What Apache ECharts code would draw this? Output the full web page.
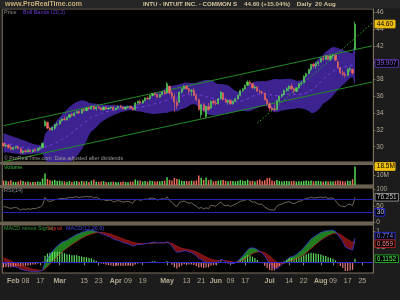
<!DOCTYPE html>
<html><head><meta charset="utf-8">
<script src="https://cdn.jsdelivr.net/npm/echarts@6/dist/echarts.min.js"></script>
<style>html,body{margin:0;padding:0;background:#1c1c1c;}#c{width:400px;height:300px;}</style>
</head><body><div id="c"></div>
<script>
const dates = ["1/26","1/27","1/28","1/29",
"2/1","2/2","2/3","2/4","2/5","2/8","2/9","2/10","2/11","2/12","2/16","2/17","2/18","2/19","2/22","2/23","2/24","2/25","2/26",
"3/1","3/2","3/3","3/4","3/5","3/8","3/9","3/10","3/11","3/12","3/15","3/16","3/17","3/18","3/19","3/22","3/23","3/24","3/25","3/26","3/29","3/30","3/31",
"4/1","4/5","4/6","4/7","4/8","4/9","4/12","4/13","4/14","4/15","4/16","4/19","4/20","4/21","4/22","4/23","4/26","4/27","4/28","4/29","4/30",
"5/3","5/4","5/5","5/6","5/7","5/10","5/11","5/12","5/13","5/14","5/17","5/18","5/19","5/20","5/21","5/24","5/25","5/26","5/27","5/28",
"6/1","6/2","6/3","6/4","6/7","6/8","6/9","6/10","6/11","6/14","6/15","6/16","6/17","6/18","6/21","6/22","6/23","6/24","6/25","6/28","6/29","6/30",
"7/1","7/2","7/6","7/7","7/8","7/9","7/12","7/13","7/14","7/15","7/16","7/19","7/20","7/21","7/22","7/23","7/26","7/27","7/28","7/29","7/30",
"8/2","8/3","8/4","8/5","8/6","8/9","8/10","8/11","8/12","8/13","8/16","8/17","8/18","8/19","8/20","8/23","8/24","8/25","8/26","8/27","8/30","8/31"];

const tickLabels = {"2/1":"Feb","2/8":"08","2/17":"17","3/1":"Mar","3/15":"15","3/23":"23","4/1":"Apr","4/9":"09","4/19":"19",
"5/3":"May","5/13":"13","5/21":"21","6/1":"Jun","6/9":"09","6/17":"17","7/1":"Jul","7/14":"14","7/22":"22","8/2":"Aug","8/9":"09","8/17":"17","8/25":"25"};

const opens = [30.4,30.1,30.2,29.9,
29.7,29.9,30.0,29.8,29.3, 29.5,29.4,29.6,29.4,29.6, 29.5,29.8,29.9,32.5,32.9, 32.2,32.0,32.2,32.6,
32.7,33.1,33.3,33.2,33.5, 33.8,33.7,34.0,34.2,34.0, 34.4,34.3,34.6,34.5,34.8, 34.5,34.7,34.6,34.4,34.7, 34.5,34.6,34.7,
34.4, 34.6,34.8,34.7,34.5,34.7, 34.8,34.6,34.4,35.2,35.4, 35.2,35.5,35.8,35.7,36.1, 36.3,36.2,35.9,36.2,36.5,
36.4,37.2,36.4,36.0,35.3, 35.3,36.5,36.9,37.2,36.9, 36.6,36.7,36.1,35.6,33.8, 35.0,33.6,34.8,34.6,35.4,
35.2,35.1,35.7,36.4, 35.6,35.3,35.5,35.1,35.4, 35.7,36.1,36.7,36.9,37.3, 37.7,37.5,37.0,37.1,36.6, 36.5,36.4,35.6,
35.1,34.6, 34.5,34.4,35.5,36.0, 36.2,36.7,36.9,37.2,36.9, 36.6,37.0,37.5,37.6,38.4, 38.7,39.2,39.8,39.6,39.9,
40.1,40.5,40.4,40.8,40.4, 40.8,40.9,40.1,39.4,38.8, 38.6,38.5,39.2,39.2,41.6];

const closes = [30.1,30.2,29.9,29.7,
29.9,30.0,29.8,29.3,29.5, 29.4,29.6,29.4,29.6,29.5, 29.8,29.9,30.4,33.0,32.2, 32.0,32.3,32.6,32.7,
33.1,33.3,33.2,33.5,33.8, 33.7,34.0,34.2,34.0,34.4, 34.3,34.6,34.5,34.8,34.5, 34.7,34.6,34.4,34.7,34.5, 34.6,34.7,34.4,
34.6, 34.8,34.7,34.5,34.7,34.8, 34.6,34.4,35.2,35.4,35.2, 35.5,35.8,35.7,36.1,36.3, 36.2,35.9,36.2,36.5,36.3,
37.5,36.4,36.0,35.3,34.9, 36.5,36.9,37.2,36.9,36.6, 36.7,36.1,35.6,34.4,35.0, 34.3,34.8,34.4,35.4,35.2,
35.1,35.7,36.5,35.6, 35.3,35.5,35.1,35.4,35.7, 36.1,36.7,36.9,37.3,37.7, 37.5,37.0,37.1,36.6,36.5, 36.4,35.6,35.1,
34.6,34.4, 34.4,35.5,36.0,36.2, 36.7,36.9,37.2,36.9,36.6, 37.0,37.5,37.6,38.4,38.7, 39.2,39.8,39.6,39.9,40.1,
40.5,40.4,40.8,40.4,40.8, 40.9,40.3,39.4,38.8,38.6, 38.5,39.2,39.3,38.77,44.6];

const highs = [30.5,30.3,30.3,30.1,
30.0,30.1,30.1,29.9,29.6, 29.7,29.7,29.7,29.7,29.8, 29.9,30.0,30.5,33.2,33.0, 32.4,32.4,32.7,32.9,
33.2,33.4,33.6,33.6,33.9, 34.0,34.1,34.3,34.3,34.5, 34.6,34.7,34.8,34.9,34.9, 34.8,34.9,34.7,34.8,34.8, 34.7,34.8,34.8,
34.7, 34.9,35.0,34.8,34.8,34.9, 34.9,34.7,35.3,35.5,35.6, 35.6,35.9,36.0,36.2,36.4, 36.5,36.3,36.3,36.6,36.7,
37.7,37.3,36.6,36.3,35.6, 36.6,37.0,37.3,37.3,37.0, 36.9,37.0,36.3,35.7,35.1, 35.2,34.9,35.2,35.5,35.6,
35.6,35.8,36.6,36.5, 35.8,35.6,35.6,35.5,35.8, 36.2,36.8,37.0,37.4,37.9, 37.9,37.6,37.3,37.2,36.8, 36.7,36.4,35.8,
35.3,34.8, 35.0,35.6,36.1,36.3, 36.8,37.1,37.3,37.5,37.0, 37.1,37.6,37.8,38.5,38.8, 39.3,39.9,40.0,40.1,40.2,
40.6,40.8,40.9,40.9,40.9, 41.0,41.0,40.2,39.5,39.1, 38.9,39.4,39.5,39.3,44.9];

const lows = [30.0,29.9,29.8,29.6,
29.6,29.7,29.7,29.2,29.1, 29.3,29.3,29.3,29.3,29.4, 29.5,29.6,29.8,32.4,32.1, 31.9,31.9,32.0,32.4,
32.6,33.0,33.1,33.1,33.4, 33.6,33.6,33.9,33.9,33.9, 34.2,34.2,34.4,34.4,34.4, 34.3,34.5,34.3,34.3,34.4, 34.4,34.5,34.3,
34.3, 34.5,34.6,34.4,34.4,34.6, 34.5,34.3,34.3,35.0,35.0, 35.1,35.4,35.6,35.6,36.0, 36.1,35.8,35.8,36.1,36.2,
36.3,36.2,35.8,34.1,34.5, 35.2,36.3,36.8,36.8,36.3, 36.0,36.0,35.4,34.3,33.4, 34.2,33.4,34.3,34.5,35.0,
34.9,35.0,35.6,35.5, 35.2,35.0,35.0,35.0,35.3, 35.6,36.0,36.5,36.8,37.2, 37.3,36.9,36.8,36.5,36.3, 36.2,35.5,35.0,
34.2,34.2, 34.2,34.4,35.3,35.8, 36.1,36.5,36.6,36.7,36.4, 36.5,36.9,37.3,37.6,38.2, 38.6,39.0,39.4,39.3,39.6,
40.0,40.2,40.3,40.3,40.2, 40.5,40.2,39.3,38.6,38.4, 38.2,38.4,38.9,38.6,41.5];

// volume in millions
const volumes = [4.5,4.2,3.6,4.8,
3.4,3.1,3.5,4.6,4.0, 3.2,3.4,2.9,3.1,3.0, 3.6,3.3,6.5,11.5,6.0, 4.8,4.2,5.0,3.9,
4.4,3.8,3.5,3.3,4.0, 3.1,3.6,3.9,3.2,4.1, 3.4,3.8,3.0,4.4,5.2, 3.3,3.1,3.4,3.9,3.0, 2.8,3.2,3.5,
2.9, 2.7,3.1,3.4,3.0,2.8, 3.2,3.6,5.5,4.3,4.6, 3.5,4.0,3.4,4.2,3.9, 3.5,3.8,3.6,4.1,4.4,
7.8,5.2,4.5,7.0,6.0, 5.5,4.2,3.9,4.0,3.8, 4.4,3.9,4.6,9.5,7.2, 5.0,7.5,4.8,5.2,3.6,
4.0,4.3,4.8,5.0, 4.1,3.8,4.2,3.9,3.6, 4.0,4.9,4.4,4.1,5.3, 4.0,4.2,3.5,4.6,5.6, 3.9,4.8,6.8,
7.0,4.4, 3.9,5.0,4.0,3.6, 3.8,4.1,3.7,3.9,4.3, 3.4,3.8,3.6,4.2,4.5, 4.0,4.6,3.7,3.9,4.1,
3.8,3.4,3.9,3.5,3.7, 3.6,3.9,4.5,4.2,3.8, 3.6,4.4,4.0,5.8,18.5];

const bbUpper = [31.6,31.5,31.4,31.3,
31.2,31.1,31.0,30.9,30.8, 30.7,30.55,30.45,30.35,30.25, 30.2,30.15,30.3,31.5,31.9, 32.16,32.47,32.8,33.15,
33.5,33.85,34.15,34.44,34.72, 34.95,35.16,35.35,35.44,35.52, 35.5,35.42,35.22,35.17,35.15, 35.11,35.04,34.99,34.97,34.98, 34.98,34.97,34.95,
34.94, 34.93,34.9,34.89,34.85,34.87, 34.86,34.87,35.0,35.16,35.22, 35.37,35.57,35.72,35.95,36.17, 36.33,36.42,36.55,36.73,36.84,
37.13,37.2,37.24,37.3,37.35, 37.42,37.5,37.62,37.65,37.62, 37.58,37.58,37.6,37.75,37.8, 37.9,37.93,37.95,37.88,37.82,
37.55,37.45,37.45,37.42, 37.38,37.3,37.1,36.85,36.65, 36.55,36.56,36.68,36.9,37.22, 37.48,37.64,37.76,37.8,37.8, 37.82,37.8,37.82,
37.9,38.0, 38.05,38.05,38.03,38.02, 38.06,38.08,38.1,38.06,37.98, 37.85,37.85,37.92,38.12,38.42, 38.86,39.42,39.82,40.16,40.47,
40.74,40.94,41.3,41.52,41.75, 41.86,41.83,41.74,41.64,41.54, 41.41,41.3,41.18,41.1,42.52];

const bbMid = [30.45,30.4,30.35,30.28,
30.2,30.15,30.08,29.98,29.93, 29.88,29.83,29.78,29.75,29.73, 29.7,29.7,29.75,29.98,30.07, 30.16,30.27,30.39,30.53,
30.7,30.87,31.03,31.2,31.44, 31.65,31.88,32.11,32.34,32.58, 32.82,33.06,33.29,33.51,33.59, 33.71,33.84,33.95,34.05,34.14, 34.22,34.29,34.35,
34.4, 34.45,34.5,34.53,34.55,34.59, 34.6,34.61,34.64,34.68,34.7, 34.75,34.81,34.86,34.95,35.03, 35.11,35.18,35.25,35.36,35.44,
35.58,35.66,35.74,35.77,35.77, 35.87,35.99,36.09,36.17,36.24, 36.3,36.31,36.28,36.2,36.12, 36.03,35.97,35.87,35.82,35.76,
35.64,35.6,35.63,35.64, 35.66,35.63,35.55,35.47,35.41, 35.4,35.42,35.48,35.57,35.71, 35.86,36.0,36.12,36.2,36.26, 36.3,36.32,36.3,
36.2,36.13, 36.08,36.07,36.11,36.16, 36.2,36.24,36.27,36.27,36.24, 36.21,36.21,36.24,36.3,36.41, 36.55,36.72,36.92,37.16,37.43,
37.74,38.04,38.3,38.52,38.75, 38.96,39.13,39.24,39.34,39.44, 39.51,39.6,39.68,39.7,39.907];

const bbLower = [29.3,29.3,29.3,29.25,
29.2,29.2,29.15,29.05,29.05, 29.05,29.1,29.1,29.15,29.2, 29.2,29.25,29.2,28.45,28.24, 28.16,28.07,27.97,27.9,
27.9,27.89,27.91,27.96,28.16, 28.35,28.6,28.87,29.24,29.64, 30.14,30.7,31.36,31.85,32.02, 32.31,32.64,32.9,33.13,33.3, 33.46,33.6,33.75,
33.86, 33.97,34.1,34.16,34.25,34.31, 34.34,34.35,34.27,34.2,34.18, 34.13,34.04,34.0,33.94,33.88, 33.89,33.93,33.95,33.98,34.04,
34.02,34.12,34.23,34.24,34.19, 34.32,34.48,34.56,34.69,34.86, 35.02,35.04,34.96,34.65,34.44, 34.16,34.01,33.79,33.76,33.7,
33.73,33.75,33.81,33.86, 33.94,33.96,34.0,34.09,34.17, 34.25,34.28,34.28,34.24,34.2, 34.24,34.36,34.48,34.6,34.72, 34.78,34.84,34.78,
34.5,34.26, 34.1,34.09,34.2,34.3, 34.34,34.4,34.44,34.48,34.5, 34.57,34.57,34.56,34.48,34.4, 34.24,34.02,34.02,34.16,34.39,
34.74,35.14,35.3,35.52,35.75, 36.06,36.43,36.74,37.04,37.34, 37.61,37.9,38.18,38.3,37.3];

const rsi = [46,47,44,42,
44,45,42,37,40, 39,41,39,42,41, 44,46,52,76,66, 63,66,69,70,
72,73,72,74,76, 75,77,78,75,78, 77,79,77,79,74, 76,73,68,70,66, 67,68,62,
64, 66,64,61,63,64, 61,58,68,70,67, 69,71,70,73,74, 72,68,70,72,70,
78,66,61,52,48, 60,63,65,61,58, 59,53,49,42,45, 40,44,41,52,50,
49,56,62,53, 50,52,48,52,55, 59,64,65,68,70, 67,61,62,56,55, 54,46,42,
38,37, 37,49,54,55, 59,61,63,59,56, 60,64,65,70,72, 74,77,74,75,76,
77,75,77,72,74, 74,66,56,50,48, 47,54,55,50,76.251];

const macd = [-0.02,-0.04,-0.08,-0.12,
-0.14,-0.15,-0.17,-0.22,-0.24, -0.26,-0.27,-0.29,-0.29,-0.3, -0.29,-0.28,-0.24,0.0,0.14, 0.25,0.35,0.44,0.52,
0.59,0.65,0.68,0.71,0.76, 0.8,0.85,0.9,0.92,0.96, 0.98,1.01,1.02,1.03,1.01, 0.99,0.96,0.92,0.9,0.86, 0.83,0.8,0.75,
0.72, 0.7,0.67,0.63,0.61,0.59, 0.56,0.52,0.55,0.57,0.57, 0.58,0.6,0.6,0.62,0.64, 0.65,0.62,0.62,0.63,0.62,
0.66,0.6,0.52,0.4,0.32, 0.33,0.35,0.37,0.36,0.33, 0.31,0.27,0.21,0.12,0.09, 0.03,0.0,-0.03,-0.01,-0.01,
-0.02,0.02,0.09,0.07, 0.02,0.0,-0.03,-0.04,-0.02, 0.04,0.12,0.2,0.3,0.4, 0.46,0.46,0.45,0.4,0.35, 0.3,0.2,0.08,
-0.05,-0.14, -0.2,-0.19,-0.14,-0.08, 0.0,0.07,0.15,0.18,0.2, 0.25,0.32,0.38,0.47,0.56, 0.65,0.75,0.8,0.86,0.91,
0.96,0.98,1.01,1.01,1.03, 1.03,0.99,0.88,0.77,0.66, 0.5,0.45,0.42,0.39,0.7742];

const signal = [0.15,0.11,0.08,0.04,
0.0,-0.03,-0.06,-0.09,-0.12, -0.15,-0.17,-0.2,-0.22,-0.23, -0.25,-0.26,-0.26,-0.21,-0.14, -0.06,0.02,0.1,0.18,
0.26,0.33,0.39,0.45,0.51, 0.57,0.62,0.67,0.72,0.77, 0.81,0.85,0.88,0.91,0.93, 0.95,0.96,0.96,0.95,0.94, 0.92,0.9,0.87,
0.84, 0.81,0.78,0.75,0.72,0.7, 0.67,0.64,0.62,0.61,0.6, 0.6,0.6,0.6,0.6,0.61, 0.62,0.62,0.62,0.62,0.62,
0.63,0.62,0.6,0.56,0.52, 0.48,0.45,0.43,0.42,0.4, 0.38,0.36,0.33,0.29,0.25, 0.21,0.17,0.13,0.1,0.08,
0.06,0.05,0.06,0.06, 0.05,0.04,0.03,0.01,0.0, 0.01,0.03,0.07,0.11,0.17, 0.23,0.28,0.31,0.33,0.34, 0.33,0.31,0.26,
0.2,0.13, 0.06,0.01,-0.02,-0.04, -0.03,-0.01,0.02,0.05,0.08, 0.11,0.15,0.19,0.24,0.3, 0.37,0.44,0.51,0.58,0.64,
0.71,0.76,0.81,0.85,0.89, 0.92,0.93,0.92,0.89,0.84, 0.78,0.73,0.68,0.63,0.659];

const channelUpper = [["1/26", 32.5], ["8/31", 42.0]];
const channelLower = [["1/26", 28.2], ["8/31", 37.7]];
const trendDotted = [["6/24", 32.8], ["8/31", 44.7]];

const priceTicks = [30,32,34,36,38,40,42,44,46];
const volTicks = [10];
const rsiTicks = [0,50,100];
const rsiLevels = [30,70];
const macdTicks = [0.5,1];

// ---------- rendering ----------
const FONT = '"Liberation Sans", Arial, sans-serif';
const TAN = '#7d715c';
const LBL = '#b4aa92';
const UP = '#55d655', DOWN = '#ee6a5a';
const chart = echarts.init(document.getElementById('c'), null, {renderer: 'canvas'});

const last = closes.length - 1;
const candleData = opens.map((o, i) => [o, closes[i], lows[i], highs[i]]);
const volData = volumes.map((v, i) => ({value: v, itemStyle: {color: closes[i] >= opens[i] ? UP : DOWN}}));
const bbWidth = bbUpper.map((u, i) => +(u - bbLower[i]).toFixed(3));
const hist = macd.map((m, i) => +(m - signal[i]).toFixed(4));
const histData = hist.map(h => ({value: h, itemStyle: {color: h >= 0 ? '#5ee05e' : '#e87c7c'}}));
const mBase = macd.map((m, i) => Math.min(m, signal[i]));
const mGreen = macd.map((m, i) => Math.max(0, m - signal[i]));
const mRed = macd.map((m, i) => Math.max(0, signal[i] - m));

const showTick = (i, v) => tickLabels[v] !== undefined;
const gridBase = {left: 2.3, width: 371, show: true, backgroundColor: '#000', borderColor: TAN, borderWidth: 1};

function xAx(gi, visible) {
  return {
    type: 'category', gridIndex: gi, data: dates, boundaryGap: true,
    axisLine: {show: visible, lineStyle: {color: TAN}},
    axisTick: {show: visible, interval: showTick, alignWithLabel: true, length: 3, lineStyle: {color: '#9a8e76'}},
    axisLabel: {show: visible, interval: showTick, margin: 5, fontSize: 7, fontFamily: FONT, color: LBL,
      formatter: v => { const t = tickLabels[v]; return /^[A-Z]/.test(t) ? '{m|' + t + '}' : t; },
      rich: {m: {fontWeight: 'bold', fontSize: 7, fontFamily: FONT, color: LBL}}},
    splitLine: {show: false}
  };
}
function yAx(gi, min, max, ticks, fmt) {
  return {
    type: 'value', gridIndex: gi, position: 'right', min: min, max: max,
    axisLine: {show: true, lineStyle: {color: TAN}},
    axisTick: {show: true, length: 2, customValues: ticks, lineStyle: {color: TAN}},
    axisLabel: {show: true, customValues: ticks, margin: 3, fontSize: 6.5, fontFamily: FONT, color: LBL, formatter: fmt},
    splitLine: {show: false}
  };
}
const noSym = {showSymbol: false, symbol: 'none', silent: true};

const option = {
  animation: false,
  backgroundColor: '#1c1c1c',
  grid: [
    Object.assign({}, gridBase, {top: 9, height: 153}),
    Object.assign({}, gridBase, {top: 164.5, height: 20.5}),
    Object.assign({}, gridBase, {top: 188, height: 34}),
    Object.assign({}, gridBase, {top: 225, height: 48})
  ],
  xAxis: [xAx(0, false), xAx(1, false), xAx(2, false), xAx(3, true)],
  yAxis: [
    yAx(0, 28.18, 46.39, priceTicks, v => String(v)),
    yAx(1, 0, 20.5, volTicks, v => v + 'M'),
    yAx(2, 0, 105, rsiTicks, v => String(v)),
    yAx(3, -0.343, 1.196, macdTicks, v => String(v))
  ],
  series: [
    Object.assign({type: 'line', name: 'bbBase', data: bbLower, stack: 'bb', lineStyle: {opacity: 0}, z: 1}, noSym),
    Object.assign({type: 'line', name: 'bbFill', data: bbWidth, stack: 'bb', lineStyle: {opacity: 0},
      areaStyle: {color: '#3c2390', opacity: 1}, z: 1}, noSym),
    Object.assign({type: 'line', name: 'bbMid', data: bbMid, lineStyle: {color: '#7440d8', width: 1, type: [3, 3]}, z: 2}, noSym),
    Object.assign({type: 'line', data: channelUpper, lineStyle: {color: '#238c23', width: 1}, z: 3}, noSym),
    Object.assign({type: 'line', data: channelLower, lineStyle: {color: '#238c23', width: 1}, z: 3}, noSym),
    {type: 'candlestick', data: candleData, barWidth: 1.7, z: 4, silent: true,
      itemStyle: {color: UP, color0: DOWN, borderColor: UP, borderColor0: DOWN, borderWidth: 0.6}},
    Object.assign({type: 'line', data: trendDotted, lineStyle: {color: '#2ea82e', width: 1, type: [1.5, 2]}, z: 5}, noSym),

    {type: 'bar', xAxisIndex: 1, yAxisIndex: 1, data: volData, barWidth: 1.5, silent: true},

    Object.assign({type: 'line', xAxisIndex: 2, yAxisIndex: 2, data: rsi, lineStyle: {color: '#7d7160', width: 0.9}, z: 3,
      markLine: {silent: true, symbol: 'none', label: {show: false}, lineStyle: {color: '#2424b4', width: 1, type: 'solid'},
        data: rsiLevels.map(v => ({yAxis: v}))}}, noSym),

    Object.assign({type: 'line', xAxisIndex: 3, yAxisIndex: 3, data: mBase, stack: 'm', stackStrategy: 'all', lineStyle: {opacity: 0}}, noSym),
    Object.assign({type: 'line', xAxisIndex: 3, yAxisIndex: 3, data: mGreen, stack: 'm', stackStrategy: 'all', lineStyle: {opacity: 0},
      areaStyle: {color: '#1f7d1f', opacity: 1}}, noSym),
    Object.assign({type: 'line', xAxisIndex: 3, yAxisIndex: 3, data: mRed, stack: 'm', stackStrategy: 'all', lineStyle: {opacity: 0},
      areaStyle: {color: '#7a1010', opacity: 1}}, noSym),
    {type: 'bar', xAxisIndex: 3, yAxisIndex: 3, data: histData, barWidth: 1.2, silent: true, z: 3},
    Object.assign({type: 'line', xAxisIndex: 3, yAxisIndex: 3, data: signal, lineStyle: {color: '#a81c1c', width: 0.8}, z: 4}, noSym),
    Object.assign({type: 'line', xAxisIndex: 3, yAxisIndex: 3, data: macd, lineStyle: {color: '#3a3ad6', width: 0.8}, z: 4,
      markLine: {silent: true, symbol: 'none', label: {show: false}, lineStyle: {color: '#2b2bd0', width: 1, type: 'solid'},
        data: [{yAxis: 0}]}}, noSym)
  ]
};
chart.setOption(option);

// ---------- decorations ----------
function txt(x, y, text, color, size, bold, align) {
  return {type: 'text', x: x, y: y, z: 60, silent: true,
    style: {text: text, fill: color, font: (bold ? 'bold ' : '') + size + 'px ' + FONT, align: align || 'left', verticalAlign: 'middle'}};
}
function box(yc, text, fill, stroke, color) {
  const w = text.length * 3.4 + 3;
  return [
    {type: 'rect', z: 70, silent: true, shape: {x: 375, y: yc - 3.8, width: w, height: 7.6},
      style: {fill: fill, stroke: stroke, lineWidth: 1}},
    {type: 'text', z: 71, silent: true, x: 376.8, y: yc,
      style: {text: text, fill: color, font: '6.5px ' + FONT, verticalAlign: 'middle'}}
  ];
}
const yp = (ax, v) => chart.convertToPixel({yAxisIndex: ax}, v);

let mY = yp(3, macd[last]), sY = yp(3, signal[last]);
if (Math.abs(sY - mY) < 7.6) { const mid = (mY + sY) / 2; mY = mid - 3.8; sY = mid + 3.8; }

const graphics = [
  {type: 'rect', z: 50, silent: true, shape: {x: 0, y: 0, width: 400, height: 8.5}, style: {fill: '#262626'}},
  txt(5, 4.5, 'www.ProRealTime.com', '#c6ad78', 7, true),
  txt(143, 4.5, 'INTU - INTUIT INC. - COMMON S    ' + closes[last].toFixed(2) + ' (+15.04%)    Daily  20 Aug', '#d2c29c', 6.2, true),
  {type: 'rect', z: 50, silent: true, shape: {x: 0, y: 162, width: 374, height: 2.5}, style: {fill: '#6b6150'}},
  {type: 'rect', z: 50, silent: true, shape: {x: 0, y: 185, width: 374, height: 3}, style: {fill: '#6b6150'}},
  {type: 'rect', z: 50, silent: true, shape: {x: 0, y: 222, width: 374, height: 3}, style: {fill: '#6b6150'}},
  txt(4, 12.5, 'Price', '#8e8e8e', 5.5),
  txt(23, 12.5, 'Boll Bands (20,2)', '#6a3cd0', 5.5),
  txt(4, 159, '© ProRealTime.com  Data adjusted after dividends', '#9a9a9a', 5.3),
  txt(4, 167.5, 'Volume', '#3fbf3f', 5.5),
  txt(4, 190.5, 'RSI(14)', '#8e8e8e', 5.5),
  txt(4, 228, 'MACD minus Signal', '#3a9a3a', 5.5),
  txt(47, 228, 'Signal', '#c02828', 5.5),
  txt(66, 228, 'MACD(12,26,9)', '#4545d8', 5.5)
].concat(
  box(yp(0, closes[last]), closes[last].toFixed(2), '#f0c010', '#f0c010', '#000'),
  box(yp(0, bbMid[last]), bbMid[last].toFixed(3), '#000', '#5a32b0', '#8a5ae8'),
  box(yp(1, volumes[last]), volumes[last] + 'M', '#f0c010', '#f0c010', '#000'),
  box(yp(2, rsi[last]), rsi[last].toFixed(3), '#000', '#8a8a8a', '#c8c8c8'),
  box(yp(2, rsiLevels[0]), String(rsiLevels[0]), '#000', '#2a2ad0', '#d0d0ff'),
  box(mY, macd[last].toFixed(3), '#000', '#3030c0', '#8080ff'),
  box(sY, signal[last].toFixed(3), '#000', '#b02020', '#ff8080'),
  box(yp(3, hist[last]), hist[last].toFixed(4), '#000', '#20a020', '#60ff60')
);
chart.setOption({graphic: graphics});
</script>
</body></html>
